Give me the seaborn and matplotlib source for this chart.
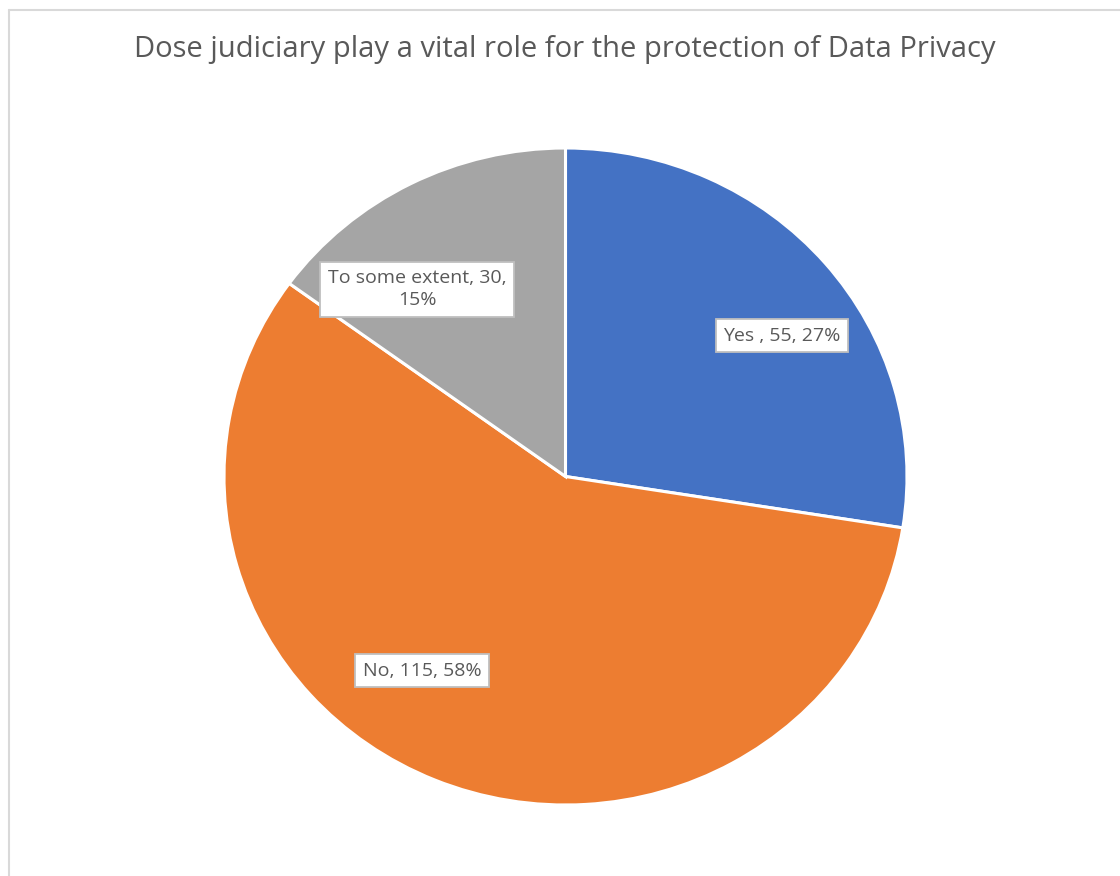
import matplotlib
matplotlib.use("Agg")
import matplotlib.pyplot as plt
from matplotlib.lines import Line2D
import seaborn as sns

# Survey responses
categories = ["Yes ", "No", "To some extent"]
counts = [55, 115, 30]
percent_labels = ["27%", "58%", "15%"]
title = "Dose judiciary play a vital role for the protection of Data Privacy"

sns.set_theme(style="white")
plt.rcParams["font.family"] = ["Open Sans", "DejaVu Sans"]

colors = sns.color_palette(["#4472C4", "#ED7D31", "#A5A5A5"])

W, H = 1120, 876
fig = plt.figure(figsize=(W / 100, H / 100), dpi=100)
fig.patch.set_facecolor("white")

# pie area in pixel terms (left, top, right, bottom)
px_l, px_t, px_r, px_b = 224, 148, 907, 805
ax = fig.add_axes([px_l / W, 1 - px_b / H, (px_r - px_l) / W, (px_b - px_t) / H])

wedges, _ = ax.pie(
    counts,
    colors=colors,
    startangle=90,
    counterclock=False,
    radius=1.0,
    wedgeprops=dict(edgecolor="white", linewidth=2.2),
)
ax.set_aspect("auto")
ax.set_xlim(-1, 1)
ax.set_ylim(-1, 1)
ax.axis("off")

# label anchor points inside each slice (data units)
label_xy = [(0.634, 0.429), (-0.420, -0.591), (-0.435, 0.570)]
label_texts = [
    f"{categories[0]}, {counts[0]}, {percent_labels[0]}",
    f"{categories[1]}, {counts[1]}, {percent_labels[1]}",
    f"{categories[2]}, {counts[2]},\n{percent_labels[2]}",
]
for (x, y), txt in zip(label_xy, label_texts):
    ax.text(
        x, y, txt,
        ha="center", va="center", multialignment="center",
        fontsize=14, color="#595959", linespacing=1.3,
        bbox=dict(boxstyle="square,pad=0.38", facecolor="white",
                  edgecolor="#BFBFBF", linewidth=1.3),
    )

fig.text(565 / W, 1 - 49 / H, title, ha="center", va="center",
         fontsize=21, color="#595959")

# chart area outline (top and left edges visible)
fig.add_artist(Line2D([8.5 / W, 1.0], [1 - 10 / H, 1 - 10 / H],
                      transform=fig.transFigure, color="#D9D9D9", linewidth=1.5))
fig.add_artist(Line2D([8.5 / W, 8.5 / W], [0.0, 1 - 10 / H],
                      transform=fig.transFigure, color="#D9D9D9", linewidth=1.5))

fig.savefig("out.png", dpi=100, facecolor="white")
